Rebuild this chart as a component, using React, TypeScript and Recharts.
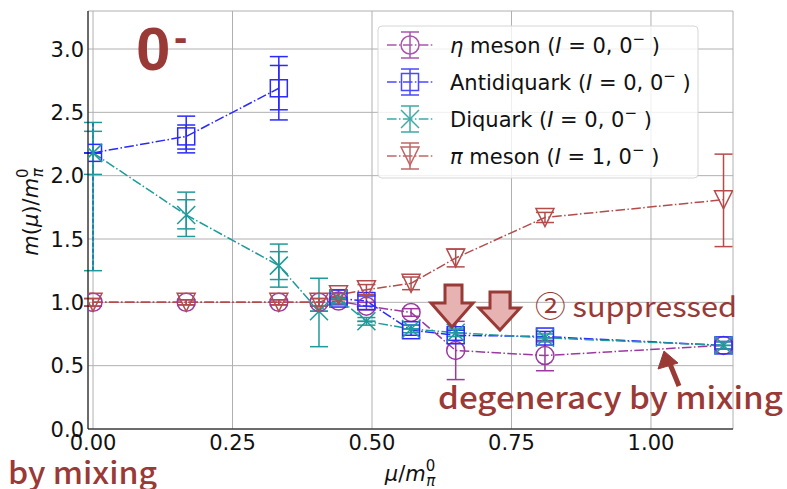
import React from 'react';
import { ComposedChart, Line, XAxis, YAxis, CartesianGrid, ErrorBar } from 'recharts';

const mu = [0, 0.167, 0.333, 0.405, 0.44, 0.49, 0.57, 0.65, 0.81, 1.13];

const etaVals = [1.0, 1.0, 1.0, 1.0, 1.01, 0.97, 0.92, 0.62, 0.58, 0.66];
const etaErrLow = [0.03, 0.02, 0.02, 0.03, 0.03, 0.03, 0.03, 0.23, 0.12, 0.03];
const etaErrHigh = [0.03, 0.02, 0.02, 0.03, 0.03, 0.03, 0.03, 0.23, 0.12, 0.03];

const antiVals = [2.18, 2.31, 2.69, null, 1.03, 1.01, 0.78, 0.74, 0.73, 0.66];
const antiErrLow = [0, 0.13, 0.25, 0, 0.04, 0.04, 0.04, 0.04, 0.04, 0.03];
const antiErrHigh = [0, 0.16, 0.25, 0, 0.04, 0.04, 0.04, 0.04, 0.04, 0.03];
const antiInnerLow = [0, 0.1, 0.17, 0, 0, 0, 0, 0, 0, 0];
const antiInnerHigh = [0, 0.09, 0.18, 0, 0, 0, 0, 0, 0, 0];
const antiWideLow = [0.93, 0, 0, 0, 0, 0, 0, 0, 0, 0];
const antiWideHigh = [0.24, 0, 0, 0, 0, 0, 0, 0, 0, 0];

const diVals = [2.18, 1.69, 1.29, 0.93, 1.03, 0.85, 0.79, 0.76, 0.72, 0.66];
const diErrLow = [0.93, 0.17, 0.17, 0.28, 0.04, 0.03, 0.03, 0.03, 0.03, 0.03];
const diErrHigh = [0.24, 0.18, 0.17, 0.26, 0.04, 0.03, 0.03, 0.03, 0.03, 0.03];
const diInnerLow = [0.17, 0.11, 0.11, 0, 0, 0, 0, 0, 0, 0];
const diInnerHigh = [0.17, 0.12, 0.11, 0, 0, 0, 0, 0, 0, 0];

const piVals = [1.0, 1.0, 1.0, 1.0, 1.06, 1.1, 1.15, 1.35, 1.67, 1.81];
const piErrLow = [0.03, 0.02, 0.02, 0.03, 0.04, 0.04, 0.05, 0.07, 0.04, 0.37];
const piErrHigh = [0.03, 0.02, 0.02, 0.03, 0.04, 0.04, 0.05, 0.07, 0.04, 0.36];

const xTicks = [0, 0.25, 0.5, 0.75, 1.0];
const yTicks = [0, 0.5, 1.0, 1.5, 2.0, 2.5, 3.0];

const PURPLE = '#9a3a9e';
const BLUE = '#2a2aff';
const TEAL = '#1f9a9a';
const RED = '#b44c4c';
const ANN = '#9a3a36';
const DASH = '9.6 2.4 1.5 2.4';
const FONT = 'DejaVu Sans';

type Row = { mu: number; v: number | null; err: number[]; err2: number[]; err3: number[] };

function build(vals: (number | null)[], lo: number[], hi: number[], lo2?: number[], hi2?: number[], lo3?: number[], hi3?: number[]): Row[] {
  return mu.map((m, i) => ({
    mu: m,
    v: vals[i],
    err: [lo[i], hi[i]],
    err2: [lo2 ? lo2[i] : 0, hi2 ? hi2[i] : 0],
    err3: [lo3 ? lo3[i] : 0, hi3 ? hi3[i] : 0],
  }));
}

const etaData = build(etaVals, etaErrLow, etaErrHigh);
const antiAll = build(antiVals, antiErrLow, antiErrHigh, antiInnerLow, antiInnerHigh, antiWideLow, antiWideHigh);
const antiDataA = antiAll.slice(0, 3);
const antiDataB = antiAll.slice(4);
const diData = build(diVals, diErrLow, diErrHigh, diInnerLow, diInnerHigh);
const piData = build(piVals, piErrLow, piErrHigh);

const circleDot = (p: any) => (
  <circle key={`c${p.index}`} cx={p.cx} cy={p.cy} r={9} fill="none" stroke={PURPLE} strokeWidth={1.5} />
);
const squareDot = (color: string, pre: string) => (p: any) => (
  <rect key={`${pre}${p.index}`} x={p.cx - 8.5} y={p.cy - 8.5} width={17} height={17} fill="none" stroke={color} strokeWidth={1.5} />
);
const xDot = (p: any) => (
  <g key={`x${p.index}`}>
    <line x1={p.cx - 9} y1={p.cy - 9} x2={p.cx + 9} y2={p.cy + 9} stroke={TEAL} strokeWidth={1.5} />
    <line x1={p.cx - 9} y1={p.cy + 9} x2={p.cx + 9} y2={p.cy - 9} stroke={TEAL} strokeWidth={1.5} />
  </g>
);
const triDot = (p: any) => (
  <polygon key={`t${p.index}`} points={`${p.cx - 9},${p.cy - 9} ${p.cx + 9},${p.cy - 9} ${p.cx},${p.cy + 9}`} fill="none" stroke={RED} strokeWidth={1.5} />
);

const XTick = (props: any) => {
  const { x, y, payload } = props;
  return (
    <text x={x} y={y + 21} textAnchor="middle" fontSize={21} fontFamily={FONT} fill="#111">
      {Number(payload.value).toFixed(2)}
    </text>
  );
};
const YTick = (props: any) => {
  const { x, y, payload } = props;
  return (
    <text x={x} y={y + 7.5} textAnchor="end" fontSize={21} fontFamily={FONT} fill="#111">
      {Number(payload.value).toFixed(1)}
    </text>
  );
};

const legendItems = [
  { color: PURPLE, kind: 'circle', pre: 'η', preItalic: true, name: ' meson (', iso: '0' },
  { color: BLUE, kind: 'square', pre: 'Antidiquark', preItalic: false, name: ' (', iso: '0' },
  { color: TEAL, kind: 'x', pre: 'Diquark', preItalic: false, name: ' (', iso: '0' },
  { color: RED, kind: 'tri', pre: 'π', preItalic: true, name: ' meson (', iso: '1' },
];

function LegendMarker({ kind, color, cx, cy }: { kind: string; color: string; cx: number; cy: number }) {
  const common = { fill: 'none', stroke: color, strokeWidth: 1.5 };
  let m: any = null;
  if (kind === 'circle') m = <circle cx={cx} cy={cy} r={9} {...common} />;
  else if (kind === 'square') m = <rect x={cx - 8.5} y={cy - 8.5} width={17} height={17} {...common} />;
  else if (kind === 'x')
    m = (
      <g>
        <line x1={cx - 9} y1={cy - 9} x2={cx + 9} y2={cy + 9} {...common} />
        <line x1={cx - 9} y1={cy + 9} x2={cx + 9} y2={cy - 9} {...common} />
      </g>
    );
  else m = <polygon points={`${cx - 9},${cy - 9} ${cx + 9},${cy - 9} ${cx},${cy + 9}`} {...common} />;
  return (
    <g opacity={0.85}>
      <line x1={387} y1={cy} x2={433} y2={cy} stroke={color} strokeWidth={1.5} strokeDasharray={DASH} />
      <line x1={cx} y1={cy - 13} x2={cx} y2={cy + 13} stroke={color} strokeWidth={1.5} />
      <line x1={cx - 9} y1={cy - 13} x2={cx + 9} y2={cy - 13} stroke={color} strokeWidth={1.5} />
      <line x1={cx - 9} y1={cy + 13} x2={cx + 9} y2={cy + 13} stroke={color} strokeWidth={1.5} />
      {m}
    </g>
  );
}

export default function App() {
  return (
    <div style={{ position: 'absolute', left: 0, top: 0, width: 787, height: 489, background: '#fff' }}>
      <ComposedChart width={787} height={489} margin={{ top: 11, right: 54, bottom: 0, left: 0 }}>
        <CartesianGrid stroke="#b0b0b0" strokeWidth={1} />
        <XAxis
          dataKey="mu"
          type="number"
          domain={[-0.009, 1.147]}
          ticks={xTicks}
          allowDataOverflow
          height={60}
          tickSize={0}
          tickMargin={0}
          tickLine={false}
          axisLine={{ stroke: '#000', strokeWidth: 1 }}
          tick={<XTick />}
        />
        <XAxis
          xAxisId="top"
          orientation="top"
          dataKey="mu"
          type="number"
          domain={[-0.009, 1.147]}
          allowDataOverflow
          height={0}
          tick={false}
          tickLine={false}
          axisLine={{ stroke: '#000', strokeWidth: 1 }}
        />
        <YAxis
          type="number"
          domain={[0, 3.3]}
          ticks={yTicks}
          allowDataOverflow
          width={88}
          tickSize={0}
          tickMargin={4}
          tickLine={false}
          axisLine={{ stroke: '#000', strokeWidth: 1 }}
          tick={<YTick />}
        />
        <YAxis
          yAxisId="right"
          orientation="right"
          type="number"
          domain={[0, 3.3]}
          allowDataOverflow
          width={0}
          tick={false}
          tickLine={false}
          axisLine={{ stroke: '#000', strokeWidth: 1 }}
        />

        <Line data={etaData} dataKey="v" stroke={PURPLE} strokeWidth={1.5} strokeDasharray={DASH} dot={circleDot} activeDot={false} isAnimationActive={false}>
          <ErrorBar dataKey="err" width={9} stroke={PURPLE} strokeWidth={1.5} direction="y" />
        </Line>

        <Line data={antiDataA} dataKey="v" stroke={BLUE} strokeWidth={1.5} strokeDasharray={DASH} dot={squareDot(BLUE, 'sa')} activeDot={false} isAnimationActive={false}>
          <ErrorBar dataKey="err" width={9} stroke={BLUE} strokeWidth={1.5} direction="y" />
          <ErrorBar dataKey="err2" width={9} stroke={BLUE} strokeWidth={1.5} direction="y" />
          <ErrorBar dataKey="err3" width={0} stroke={BLUE} strokeWidth={2} strokeDasharray="4 2" direction="y" />
        </Line>
        <Line data={antiDataB} dataKey="v" stroke={BLUE} strokeWidth={1.5} strokeDasharray={DASH} dot={squareDot(BLUE, 'sb')} activeDot={false} isAnimationActive={false}>
          <ErrorBar dataKey="err" width={9} stroke={BLUE} strokeWidth={1.5} direction="y" />
        </Line>

        <Line data={diData} dataKey="v" stroke={TEAL} strokeWidth={1.5} strokeDasharray={DASH} dot={xDot} activeDot={false} isAnimationActive={false}>
          <ErrorBar dataKey="err" width={9} stroke={TEAL} strokeWidth={1.5} direction="y" />
          <ErrorBar dataKey="err2" width={9} stroke={TEAL} strokeWidth={1.5} direction="y" />
        </Line>

        <Line data={piData} dataKey="v" stroke={RED} strokeWidth={1.5} strokeDasharray={DASH} dot={triDot} activeDot={false} isAnimationActive={false}>
          <ErrorBar dataKey="err" width={9} stroke={RED} strokeWidth={1.5} direction="y" />
        </Line>
      </ComposedChart>

      <svg width={787} height={489} style={{ position: 'absolute', left: 0, top: 0, pointerEvents: 'none' }}>
        {/* legend */}
        <rect x={378} y={26} width={320} height={152} rx={4} fill="#fff" fillOpacity={0.8} stroke="#d6d6d6" />
        {legendItems.map((it, i) => {
          const cy = 45 + i * 37;
          return (
            <g key={i}>
              <LegendMarker kind={it.kind} color={it.color} cx={410} cy={cy} />
              <text x={450} y={cy + 7.5} fontSize={21} fontFamily={FONT} fill="#111">
                <tspan fontStyle={it.preItalic ? 'italic' : 'normal'}>{it.pre}</tspan>
                <tspan>{it.name}</tspan>
                <tspan fontStyle="italic">I</tspan>
                <tspan>{' = ' + it.iso + ', 0'}</tspan>
                <tspan fontSize={15} dy={-9}>{'−'}</tspan>
                <tspan dy={9}>{' )'}</tspan>
              </text>
            </g>
          );
        })}

        {/* axis labels */}
        <text x={410} y={481} textAnchor="middle" fontSize={21} fontFamily={FONT} fill="#111">
          <tspan fontStyle="italic">μ</tspan>
          <tspan>/</tspan>
          <tspan fontStyle="italic">m</tspan>
          <tspan fontSize={15} dy={-10}>0</tspan>
          <tspan fontSize={15} fontStyle="italic" dx={-9} dy={15}>π</tspan>
        </text>
        <text transform="translate(38,212) rotate(-90)" textAnchor="middle" fontSize={21} fontFamily={FONT} fill="#111">
          <tspan fontStyle="italic">m</tspan>
          <tspan>(</tspan>
          <tspan fontStyle="italic">μ</tspan>
          <tspan>)/</tspan>
          <tspan fontStyle="italic">m</tspan>
          <tspan fontSize={15} dy={-10}>0</tspan>
          <tspan fontSize={15} fontStyle="italic" dx={-9} dy={15}>π</tspan>
        </text>

        {/* annotations */}
        <text x={136} y={70} fontSize={62} fontWeight="bold" fontFamily="Liberation Sans" fill={ANN}>0</text>
        <text x={174} y={51} fontSize={40} fontWeight="bold" fontFamily="Liberation Sans" fill={ANN}>-</text>

        <polygon points="445,285 462,285 462,303 473,303 452,327 431,303 445,303" fill="#e6b3b2" stroke={ANN} strokeWidth={3} strokeLinejoin="miter" />
        <polygon points="490,292 510,292 510,308 520,308 500,330 479,308 490,308" fill="#e6b3b2" stroke={ANN} strokeWidth={3} strokeLinejoin="miter" />

        <text x={535} y={317} fontSize={28} fontFamily="Noto Sans CJK JP" fill={ANN} textLength={202} lengthAdjust="spacingAndGlyphs">② suppressed</text>
        <text x={438} y={409} fontSize={30} fontWeight={500} fontFamily="Noto Sans CJK JP" fill={ANN} textLength={345} lengthAdjust="spacingAndGlyphs">degeneracy by mixing</text>
        <text x={8} y={484} fontSize={30} fontWeight={500} fontFamily="Noto Sans CJK JP" fill={ANN} textLength={149} lengthAdjust="spacingAndGlyphs">by mixing</text>

        <line x1={679} y1={386} x2={670} y2={364} stroke={ANN} strokeWidth={5} />
        <polygon points="664,351 658,369 678,363" fill={ANN} stroke={ANN} strokeWidth={1} />
      </svg>
    </div>
  );
}
